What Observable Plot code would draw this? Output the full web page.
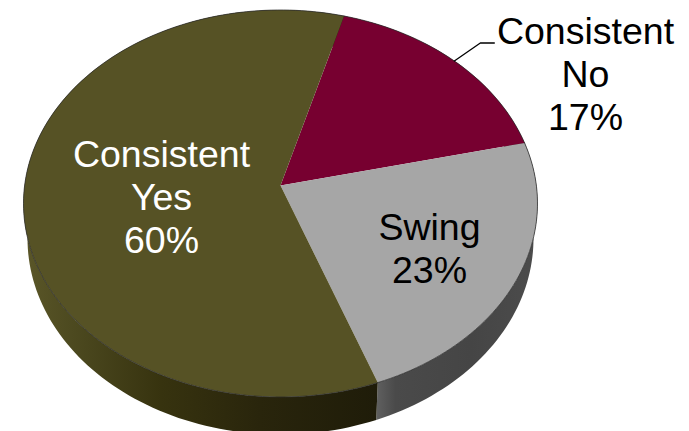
<!DOCTYPE html>
<html>
<head>
<meta charset="utf-8">
<style>html,body{margin:0;padding:0;background:#fff}svg{display:block}</style>
<script src="https://cdn.jsdelivr.net/npm/d3@7"></script>
<script src="https://cdn.jsdelivr.net/npm/@observablehq/plot@0.6"></script>
</head>
<body>
<div id="chart"></div>
<script>
// Data
const categories = ["Consistent No", "Swing", "Consistent Yes"];
const shares = [17, 23, 60];
const labels = ["Consistent\nNo\n17%", "Swing\n23%", "Consistent\nYes\n60%"];

// Styles
const topColors = ["#770030", "#a6a6a6", "#565225"];
const sideColors = ["#3a0018", "url(#sideSwing)", "url(#sideYes)"];
const labelColors = ["#000", "#000", "#fff"];

// Layout (ellipse of the top face, its perspective, the base, label placement)
const W = 689, H = 431;
const top_ = {cx: 280, cy: 203, a: 257, b: 193.5, tilt: 0.093};
const base = {cx: 280, cy: 238, a: 253, b: 196};
const startDeg = 15.7;
const labelAt = [{x: 585, y: 72.5}, {x: 429, y: 247}, {x: 161, y: 196}];
const rad = Math.PI / 180;

// A rim angle seen through the perspective that moves the apex off the ellipse centre
function warp(deg) {
  const s = Math.sin(deg * rad), c = Math.cos(deg * rad), k = top_.tilt;
  const d = 1 + k * c;
  return {u: s * Math.sqrt(1 - k * k) / d, v: (c + k) / d};
}
const rim = (deg, e) => { const p = warp(deg); return {x: e.cx + e.a * p.u, y: e.cy - e.b * p.v}; };
const apex = {x: top_.cx, y: top_.cy - top_.b * top_.tilt};

// Slice extents, from the values
let acc = startDeg;
const slices = shares.map((v, i) => {
  const from = acc, to = acc + v * 3.6;
  acc = to;
  return {i, from, to, mid: (from + to) / 2};
});
const arc = (s, e, reverse) => {
  const n = Math.ceil((s.to - s.from) / 1.5);
  const pts = d3.range(n + 1).map(j => rim(s.from + (s.to - s.from) * j / n, e));
  return reverse ? pts.reverse() : pts;
};

const defs = () => {
  const g = document.createElementNS("http://www.w3.org/2000/svg", "defs");
  const grad = (id, stops) =>
    `<linearGradient id="${id}" gradientUnits="userSpaceOnUse" x1="0" x2="${W}" y1="0" y2="0">` +
    stops.map(([x, c]) => `<stop offset="${x / W}" stop-color="${c}"/>`).join("") + `</linearGradient>`;
  g.innerHTML =
    grad("sideYes", [[25, "#5a5628"], [70, "#4d4a20"], [160, "#37330f"], [260, "#29250c"], [376, "#1f1c09"]]) +
    grad("sideSwing", [[374, "#626262"], [395, "#4a4a4a"], [470, "#454545"], [537, "#4c4c4c"]]);
  return g;
};

const sideMarks = slices.map(s =>
  Plot.line([...arc(s, top_), ...arc(s, base, true)], {
    x: "x", y: "y", fill: sideColors[s.i], stroke: "none"
  }));
const topMarks = slices.map(s =>
  Plot.line([apex, ...arc(s, top_)], {
    x: "x", y: "y", fill: topColors[s.i], stroke: "none"
  }));
const rimMarks = slices.map(s =>
  Plot.line(arc(s, top_), {x: "x", y: "y", stroke: "#2c2c2c", strokeWidth: 1, strokeOpacity: 0.75}));

// Leader of the "Consistent No" label starts on the rim at the slice's middle
const leadStart = rim(slices[0].mid, top_);
const leader = [leadStart, {x: leadStart.x + 26, y: leadStart.y - 18}, {x: leadStart.x + 40, y: leadStart.y - 18}];

const textRows = slices.map(s => ({text: labels[s.i], x: labelAt[s.i].x, y: labelAt[s.i].y, color: labelColors[s.i]}));

const chart = Plot.plot({
  width: W, height: H, margin: 0,
  x: {domain: [0, W], axis: null},
  y: {domain: [H, 0], axis: null},
  style: {background: "#fff", overflow: "hidden"},
  marks: [
    defs,
    ...sideMarks,
    ...topMarks,
    ...rimMarks,
    Plot.line(leader, {x: "x", y: "y", stroke: "#000", strokeWidth: 1.3}),
    Plot.text(textRows, {
      x: "x", y: "y", text: "text", fill: "color",
      fontFamily: "Liberation Sans", fontSize: 37.5, lineHeight: 1.15,
      textAnchor: "middle", lineAnchor: "middle"
    })
  ]
});
document.getElementById("chart").append(chart);
</script>
</body>
</html>
